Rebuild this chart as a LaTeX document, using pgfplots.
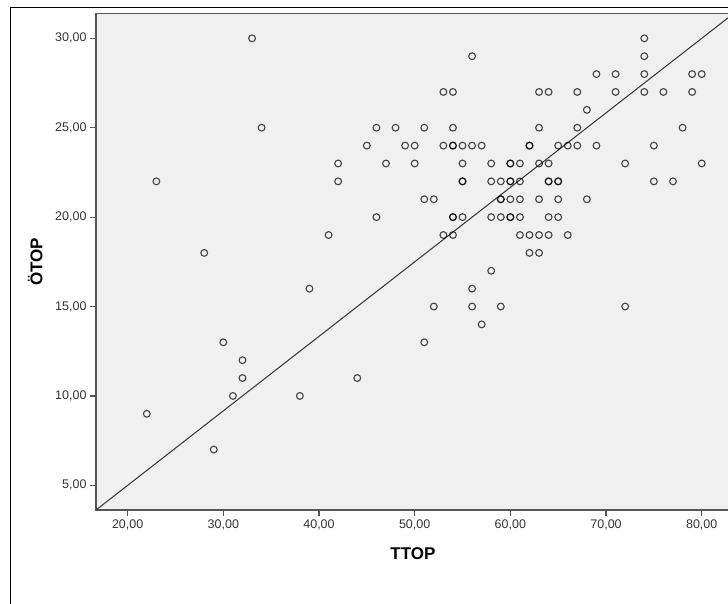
\documentclass[border=0pt]{standalone}
\usepackage{pgfplots}
\pgfplotsset{compat=1.18}
\usepackage{fontspec}
\setmainfont{Liberation Sans}
\definecolor{plotbg}{HTML}{F0F0F0}
\definecolor{boxline}{HTML}{555555}
\definecolor{ticktext}{HTML}{333333}

\begin{document}
\begin{tikzpicture}[x=1pt,y=1pt]
\useasboundingbox (0,0) rectangle (728,603);
% outer chart frame (cropped on the right and bottom)
\draw[black, line width=1pt] (10,-20) -- (10,595.7) -- (760,595.7);
\begin{axis}[
  at={(96pt,93pt)}, anchor=south west,
  width=634pt, height=496.7pt, scale only axis,
  xmin=16.69, xmax=82.96, ymin=3.62, ymax=31.4,
  axis background/.style={fill=plotbg},
  axis line style={boxline, line width=1.3pt},
  tick align=outside, tick pos=left,
  major tick length=6pt,
  tick style={boxline, line width=1.2pt},
  xtick={20,30,40,50,60,70,80},
  xticklabels={{20,00},{30,00},{40,00},{50,00},{60,00},{70,00},{80,00}},
  ytick={5,10,15,20,25,30},
  yticklabels={{5,00},{10,00},{15,00},{20,00},{25,00},{30,00}},
  ticklabel style={font=\fontsize{12.5}{15}\selectfont, text=ticktext},
  xlabel={TTOP}, ylabel={ÖTOP},
  label style={font=\fontsize{17}{20}\selectfont\bfseries},
  xlabel style={at={(axis description cs:0.5,-0.0987)}, anchor=base},
  ylabel style={at={(axis description cs:-0.0847,0.5)}, anchor=base},
]
\addplot[black!80, line width=1pt] coordinates {(16.69,3.62) (82.96,31.23)};
\addplot[only marks, mark=o, mark size=3.4pt,
  mark options={draw=black, draw opacity=0.72, line width=1.1pt}]
coordinates {
(22,9) (23,22) (28,18) (29,7) (30,13) (31,10) (32,11) (32,12) (33,30) (34,25)
(38,10) (39,16) (41,19) (42,22) (42,23) (44,11)
(45,24) (46,20) (46,25) (47,23) (48,25) (49,24) (50,23) (50,24)
(51,13) (51,21) (51,25) (52,15) (52,21)
(53,19) (53,24) (53,27) (54,19) (54,20) (54,20) (54,24) (54,24) (54,25) (54,27)
(55,20) (55,22) (55,22) (55,23) (55,24) (56,15) (56,16) (56,24) (56,29)
(57,14) (57,24)
(58,17) (58,20) (58,22) (58,23) (59,15) (59,20) (59,21) (59,21) (59,22)
(60,20) (60,20) (60,21) (60,22) (60,22) (60,23) (60,23)
(61,19) (61,20) (61,21) (61,22) (61,23)
(62,18) (62,19) (62,24) (62,24)
(63,18) (63,19) (63,21) (63,23) (63,25) (63,27)
(64,19) (64,20) (64,22) (64,22) (64,23) (64,27)
(65,20) (65,21) (65,22) (65,22) (65,24)
(66,19) (66,24) (67,24) (67,25) (67,27) (68,21) (68,26)
(69,24) (69,28) (71,27) (71,28) (72,15) (72,23)
(74,27) (74,28) (74,29) (74,30) (75,22) (75,24) (76,27) (77,22) (78,25)
(79,27) (79,28) (80,23) (80,28)
};
\end{axis}
\end{tikzpicture}
\end{document}
